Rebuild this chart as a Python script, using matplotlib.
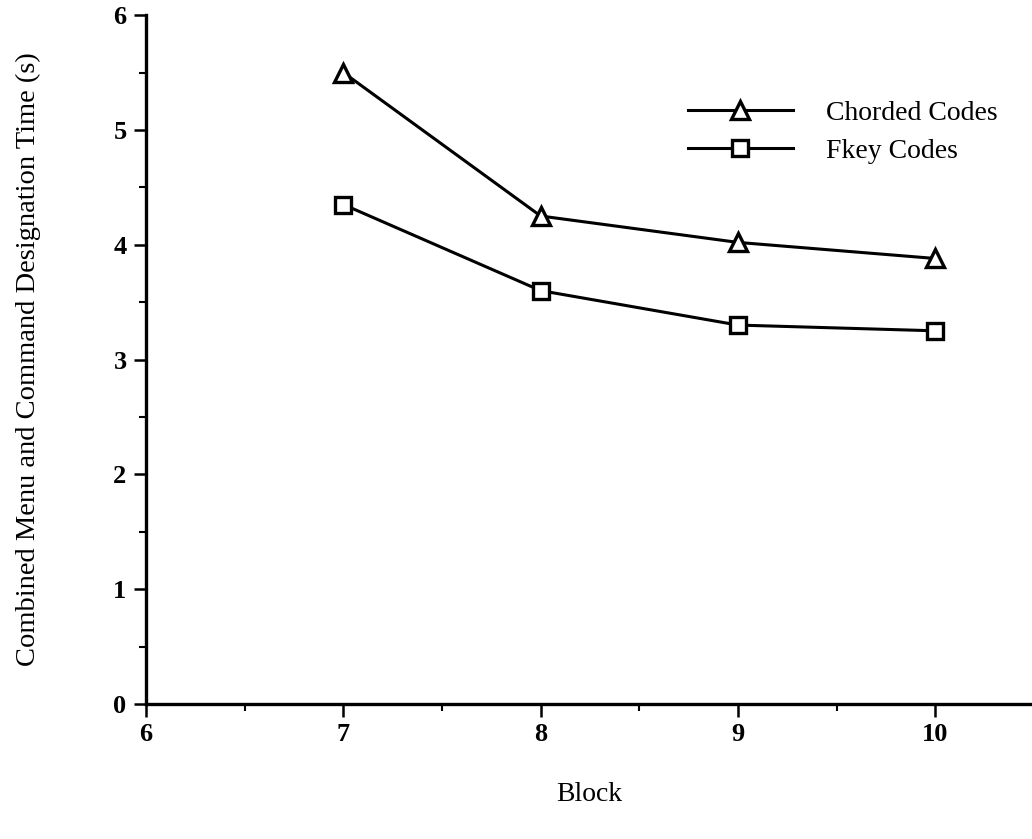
import matplotlib
matplotlib.use("Agg")
import matplotlib.pyplot as plt
from matplotlib.ticker import MultipleLocator

# ─── Data ──────────────────────────────────────────────────────────────────────

blocks = [7, 8, 9, 10]
chorded_times = [5.5, 4.25, 4.02, 3.88]
fkey_times = [4.35, 3.6, 3.3, 3.25]

x_ticks = [6, 7, 8, 9, 10]
y_ticks = [0, 1, 2, 3, 4, 5, 6]

# ─── Plot ──────────────────────────────────────────────────────────────────────

plt.rcParams["font.family"] = ["Liberation Serif", "DejaVu Serif"]

fig = plt.figure(figsize=(10.32, 8.39), dpi=100)
ax = fig.add_axes([0.1415, 0.161, 0.8585, 0.821])

ax.plot(blocks, chorded_times, color="black", lw=2.2, marker="^",
        markersize=13, markerfacecolor="white", markeredgewidth=2.4,
        label="Chorded Codes")
ax.plot(blocks, fkey_times, color="black", lw=2.2, marker="s",
        markersize=12, markerfacecolor="white", markeredgewidth=2.4,
        label="Fkey Codes")

ax.set_xlim(6, 10.49)
ax.set_ylim(0, 6)
ax.set_xticks(x_ticks)
ax.set_yticks(y_ticks)
ax.xaxis.set_minor_locator(MultipleLocator(0.5))
ax.yaxis.set_minor_locator(MultipleLocator(0.5))

for side in ("top", "right"):
    ax.spines[side].set_visible(False)
for side in ("left", "bottom"):
    ax.spines[side].set_linewidth(2.4)

ax.tick_params(which="major", direction="out", length=9, width=1.8,
               labelsize=19, pad=5)
ax.tick_params(which="minor", direction="out", length=5, width=1.5)
for lbl in ax.get_xticklabels() + ax.get_yticklabels():
    lbl.set_fontweight("bold")
    lbl.set_fontsize(19)

ax.set_xlabel("Block", fontsize=20, labelpad=26)
ax.set_ylabel("Combined Menu and Command Designation Time (s)",
              fontsize=20.5, labelpad=52)

ax.legend(loc="upper left", bbox_to_anchor=(0.583, 0.912), frameon=False,
          fontsize=20, handlelength=3.8, handletextpad=1.2,
          labelspacing=0.45)

fig.savefig("out.png", dpi=100)
